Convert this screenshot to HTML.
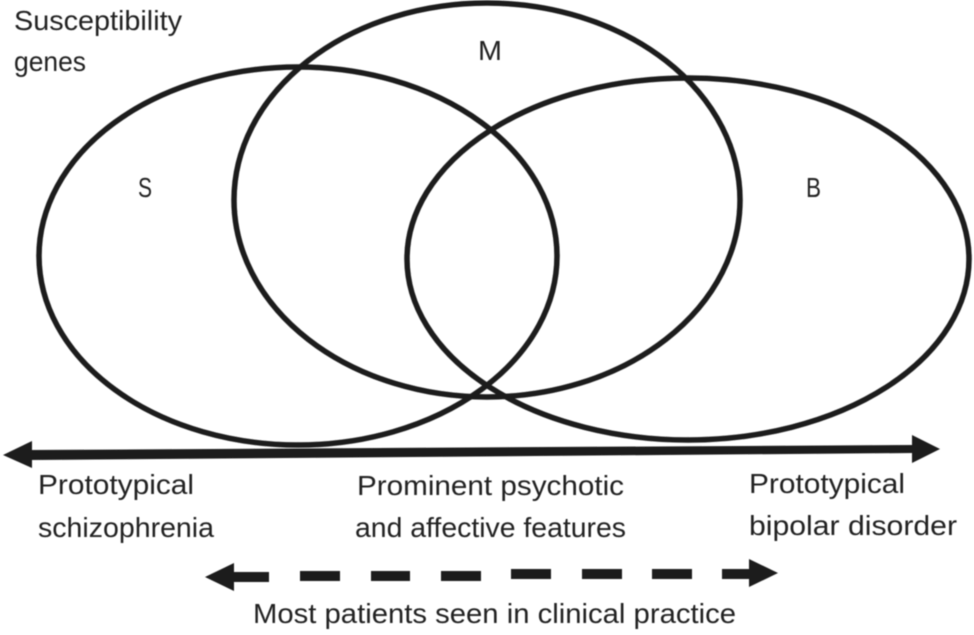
<!DOCTYPE html>
<html><head><meta charset="utf-8"><style>
html,body{margin:0;padding:0;background:#fff;width:974px;height:635px;overflow:hidden}
svg{display:block}
text{font-family:"Liberation Sans",sans-serif;font-size:27.5px;fill:#222;filter:url(#b)}
</style></head><body>
<svg width="974" height="635" viewBox="0 0 974 635">
<defs><filter id="b" x="-5%" y="-20%" width="110%" height="140%"><feGaussianBlur stdDeviation="0.5"/></filter></defs>
<g fill="none" stroke="#1c1c1c" stroke-width="5.5" filter="url(#b)">
<ellipse cx="298" cy="256" rx="259" ry="189"/>
<ellipse cx="487" cy="200" rx="253" ry="197"/>
<ellipse cx="688" cy="259" rx="281" ry="181"/>
</g>
<g fill="#1c1c1c" filter="url(#b)">
<polygon points="32,450 912,445 912,453 32,460"/>
<polygon points="3,455 32,441 32,468"/>
<polygon points="940,449 912,435 912,463"/>
<polygon points="205,577 234,563 234,591"/>
<rect x="232" y="572" width="37" height="10"/>
<rect x="300" y="571" width="40" height="10"/>
<rect x="371" y="571" width="39" height="10"/>
<rect x="441" y="571" width="40" height="10"/>
<rect x="511" y="569" width="40" height="10"/>
<rect x="582" y="569" width="40" height="10"/>
<rect x="652" y="569" width="40" height="10"/>
<rect x="722" y="569" width="30" height="10"/>
<polygon points="778,573 749,559 749,587"/>
</g>
<text x="14" y="30" textLength="168" lengthAdjust="spacingAndGlyphs">Susceptibility</text>
<text x="14" y="71" textLength="72" lengthAdjust="spacingAndGlyphs">genes</text>
<text x="138" y="197" textLength="14" lengthAdjust="spacingAndGlyphs">S</text>
<text x="478" y="60" textLength="24" lengthAdjust="spacingAndGlyphs">M</text>
<text x="806" y="197" textLength="15" lengthAdjust="spacingAndGlyphs">B</text>
<text x="38" y="494" textLength="156" lengthAdjust="spacingAndGlyphs">Prototypical</text>
<text x="38" y="537" textLength="176" lengthAdjust="spacingAndGlyphs">schizophrenia</text>
<text x="357" y="495" textLength="267" lengthAdjust="spacingAndGlyphs">Prominent psychotic</text>
<text x="355" y="537" textLength="271" lengthAdjust="spacingAndGlyphs">and affective features</text>
<text x="749" y="493" textLength="156" lengthAdjust="spacingAndGlyphs">Prototypical</text>
<text x="749" y="535" textLength="208" lengthAdjust="spacingAndGlyphs">bipolar disorder</text>
<text x="253" y="623" textLength="483" lengthAdjust="spacingAndGlyphs">Most patients seen in clinical practice</text>
</svg>
</body></html>
